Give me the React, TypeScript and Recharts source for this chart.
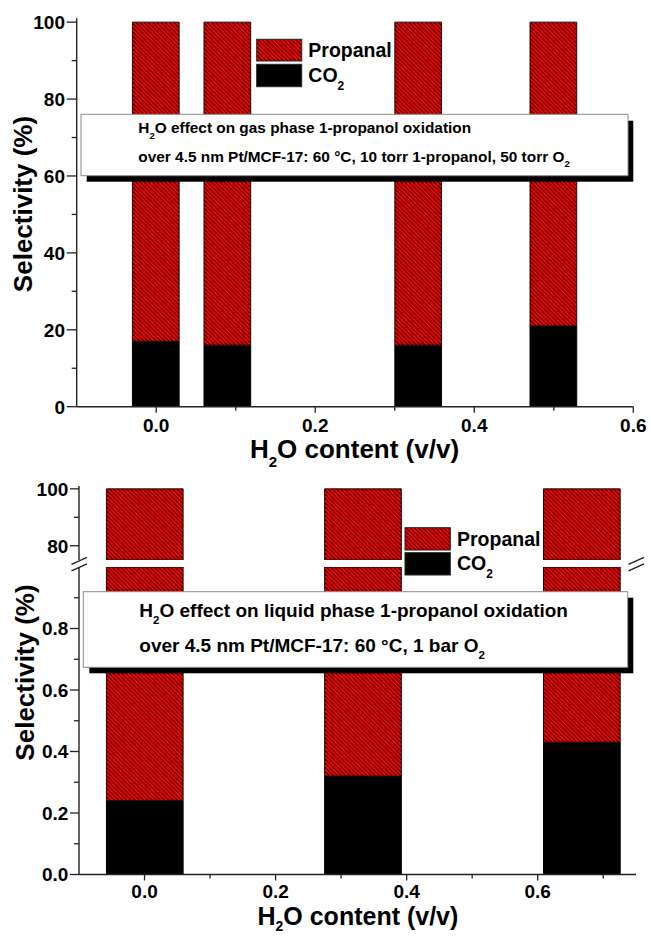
import React from "react";
import { BarChart, Bar, XAxis, YAxis } from "recharts";

// gas phase panel
const gasWater = [0, 0.09, 0.33, 0.5];
const gasCO2 = [17, 16, 16, 21];
const gasPropanal = [83, 84, 84, 79];
const gasXMajor = [0, 0.2, 0.4, 0.6];
const gasXMinor = [0.1, 0.3, 0.5];
const gasYMajor = [0, 20, 40, 60, 80, 100];
const gasYMinor = [10, 30, 50, 70, 90];

// liquid phase panel (broken y axis)
const liqWater = [0, 0.333, 0.667];
const liqCO2 = [0.24, 0.32, 0.43];
const liqPropanal = [99.76, 99.68, 99.57];
const liqXMajor = [0, 0.2, 0.4, 0.6];
const liqXMinor = [0.1, 0.3, 0.5, 0.7];
const liqYMajorLow = [0, 0.2, 0.4, 0.6, 0.8];
const liqYMinorLow = [0.1, 0.3, 0.5, 0.7, 0.9];
const liqYMajorHigh = [80, 100];
const liqYMinorHigh = [90];

const gasData = gasWater.map((x, i) => ({ x, co2: gasCO2[i], propanal: gasPropanal[i] }));
const liqData = liqWater.map((x, i) => ({ x, co2: liqCO2[i], propanal: liqPropanal[i] }));

const FONT = "'Liberation Sans', Arial, sans-serif";
const AX = { stroke: "#222", strokeWidth: 1.4 };
const has = (arr: number[], v: number) => arr.some((t) => Math.abs(t - v) < 1e-9);

const XTick = ({ x, y, payload, majors, off }: any) => {
  const major = has(majors, payload.value);
  return (
    <g>
      <line x1={x} x2={x} y1={y} y2={y + (major ? 6 : 4)} stroke="#222" strokeWidth={1.3} />
      {major && (
        <text x={x} y={y + off} textAnchor="middle" fontFamily={FONT} fontWeight="bold" fontSize={19} fill="#000">
          {payload.value.toFixed(1)}
        </text>
      )}
    </g>
  );
};

const YTick = ({ x, y, payload, majors, fmt, len }: any) => {
  const major = has(majors, payload.value);
  return (
    <g>
      <line x1={x} x2={x - (major ? len : 5)} y1={y} y2={y} stroke="#222" strokeWidth={1.3} />
      {major && (
        <text x={x - len - 1.7} y={y + 6.8} textAnchor="end" fontFamily={FONT} fontWeight="bold" fontSize={19} fill="#000">
          {fmt(payload.value)}
        </text>
      )}
    </g>
  );
};

const Sub = ({ children, size, dy }: any) => (
  <tspan fontSize={size} dy={dy}>{children}</tspan>
);

export default function App() {
  return (
    <div style={{ position: "absolute", left: 0, top: 0, width: 651, height: 936, background: "#fff", overflow: "hidden" }}>
      {/* gas phase */}
      <div style={{ position: "absolute", left: 0, top: 0 }}>
        <BarChart width={651} height={470} data={gasData} margin={{ top: 18.3, right: 17.7, bottom: 33.3, left: 0 }}>
          <XAxis xAxisId="f" orientation="top" type="number" dataKey="x" domain={[-0.1, 0.6]} height={0} tick={false} tickLine={false} axisLine={AX} />
          <XAxis type="number" dataKey="x" domain={[-0.1, 0.6]} allowDataOverflow ticks={[...gasXMajor, ...gasXMinor]} interval={0}
            tickSize={0} tickMargin={0} tickLine={false} axisLine={AX} height={30}
            tick={(p: any) => <XTick {...p} majors={gasXMajor} off={25} />} />
          <YAxis type="number" domain={[0, 101]} allowDataOverflow ticks={[...gasYMajor, ...gasYMinor]} interval={0}
            tickSize={0} tickMargin={0} tickLine={false} axisLine={AX} width={76.7}
            tick={(p: any) => <YTick {...p} majors={gasYMajor} len={10} fmt={(v: number) => String(v)} />} />
          <YAxis yAxisId="f" orientation="right" type="number" domain={[0, 101]} width={0} tick={false} tickLine={false} axisLine={AX} />
          <Bar dataKey="co2" stackId="s" fill="#000" stroke="#000" strokeWidth={1} barSize={46.7} isAnimationActive={false} />
          <Bar dataKey="propanal" stackId="s" fill="url(#hatch)" stroke="#111" strokeWidth={1} barSize={46.7} isAnimationActive={false} />
        </BarChart>
      </div>

      {/* liquid phase, upper segment */}
      <div style={{ position: "absolute", left: 0, top: 476 }}>
        <BarChart width={651} height={100} data={liqData} margin={{ top: 10, right: 15, bottom: 16, left: 0 }}>
          <XAxis xAxisId="f" orientation="top" type="number" dataKey="x" domain={[-0.1, 0.75]} height={0} tick={false} tickLine={false} axisLine={AX} />
          <XAxis type="number" dataKey="x" domain={[-0.1, 0.75]} allowDataOverflow height={0} tick={false} tickLine={false} axisLine={false} />
          <YAxis type="number" domain={[75, 101]} allowDataOverflow ticks={[...liqYMajorHigh, ...liqYMinorHigh]} interval={0}
            tickSize={0} tickMargin={0} tickLine={false} axisLine={AX} width={79}
            tick={(p: any) => <YTick {...p} majors={liqYMajorHigh} len={9} fmt={(v: number) => String(v)} />} />
          <YAxis yAxisId="f" orientation="right" type="number" domain={[75, 101]} width={0} tick={false} tickLine={false} axisLine={AX} />
          <Bar dataKey="co2" stackId="s" fill="#000" stroke="#000" strokeWidth={1} barSize={76.7} isAnimationActive={false} />
          <Bar dataKey="propanal" stackId="s" fill="url(#hatch)" stroke="#111" strokeWidth={1} barSize={76.7} isAnimationActive={false} />
        </BarChart>
      </div>

      {/* liquid phase, lower segment */}
      <div style={{ position: "absolute", left: 0, top: 560 }}>
        <BarChart width={651} height={376} data={liqData} margin={{ top: 7, right: 15, bottom: 31.5, left: 0 }}>
          <XAxis type="number" dataKey="x" domain={[-0.1, 0.75]} allowDataOverflow ticks={[...liqXMajor, ...liqXMinor]} interval={0}
            tickSize={0} tickMargin={0} tickLine={false} axisLine={AX} height={30}
            tick={(p: any) => <XTick {...p} majors={liqXMajor} off={23} />} />
          <YAxis type="number" domain={[0, 1]} allowDataOverflow ticks={[...liqYMajorLow, ...liqYMinorLow]} interval={0}
            tickSize={0} tickMargin={0} tickLine={false} axisLine={AX} width={79}
            tick={(p: any) => <YTick {...p} majors={liqYMajorLow} len={9} fmt={(v: number) => v.toFixed(1)} />} />
          <YAxis yAxisId="f" orientation="right" type="number" domain={[0, 1]} width={0} tick={false} tickLine={false} axisLine={AX} />
          <Bar dataKey="co2" stackId="s" fill="#000" stroke="#000" strokeWidth={1} barSize={76.7} isAnimationActive={false} />
          <Bar dataKey="propanal" stackId="s" fill="url(#hatch)" stroke="#111" strokeWidth={1} barSize={76.7} isAnimationActive={false} />
        </BarChart>
      </div>

      {/* annotations, legends, titles */}
      <svg width={651} height={936} style={{ position: "absolute", left: 0, top: 0, pointerEvents: "none" }}
        fontFamily={FONT} fontWeight="bold" fill="#000">
        <defs>
          <pattern id="hatch" patternUnits="userSpaceOnUse" width="4.2" height="4.2">
            <rect width="4.2" height="4.2" fill="#ff0000" />
            <path d="M-1,-1 L5.2,5.2 M-1,3.2 L1,5.2 M3.2,-1 L5.2,1" stroke="#000" strokeWidth="0.9" />
          </pattern>
        </defs>

        {/* gas legend */}
        <rect x={256.7} y={39.3} width={45} height={21.7} fill="url(#hatch)" stroke="#222" />
        <rect x={256.7} y={64.3} width={45} height={22.4} fill="#000" stroke="#222" />
        <text x={308.3} y={56.7} fontSize={19.5}>Propanal</text>
        <text x={308.3} y={82.3} fontSize={19.5}>CO<Sub size={12} dy={7.7}>2</Sub></text>

        {/* gas note */}
        <rect x={86.7} y={120.7} width={546.6} height={61} fill="#000" />
        <rect x={81} y={114.3} width={547} height={61.4} fill="#fff" stroke="#8a8a8a" strokeWidth={1} />
        <text x={138.3} y={133.3} fontSize={15.4}>
          H<Sub size={9.5} dy={5.5}>2</Sub><tspan dy={-5.5}>O effect on gas phase 1-propanol oxidation</tspan>
        </text>
        <text x={138.3} y={161.7} fontSize={15.4}>
          over 4.5 nm Pt/MCF-17: 60 °C, 10 torr 1-propanol, 50 torr O<Sub size={9.5} dy={5.5}>2</Sub>
        </text>

        {/* gas axis titles */}
        <text transform="translate(32,204) rotate(-90)" textAnchor="middle" fontSize={26}>Selectivity (%)</text>
        <text x={354.5} y={458.3} textAnchor="middle" fontSize={26}>
          H<Sub size={15} dy={9}>2</Sub><tspan dy={-9}>O content (v/v)</tspan>
        </text>

        {/* axis break marks */}
        {[79, 636].map((bx) => (
          <g key={bx} stroke="#222" strokeWidth={1.4}>
            <line x1={bx - 7.5} y1={564.3} x2={bx + 8} y2={557.3} />
            <line x1={bx - 7.5} y1={570.8} x2={bx + 8} y2={563.8} />
          </g>
        ))}

        {/* liquid legend */}
        <rect x={405} y={527.7} width={45.3} height={22.3} fill="url(#hatch)" stroke="#222" />
        <rect x={405} y={552.7} width={45.3} height={22.3} fill="#000" stroke="#222" />
        <text x={457} y={546} fontSize={19.5}>Propanal</text>
        <text x={457} y={570} fontSize={19.5}>CO<Sub size={12} dy={8}>2</Sub></text>

        {/* liquid note */}
        <rect x={89.3} y={597.7} width={544} height={75.6} fill="#000" />
        <rect x={83.3} y={591.7} width={544.4} height={75.6} fill="#fff" stroke="#8a8a8a" strokeWidth={1} />
        <text x={139.3} y={616.7} fontSize={19}>
          H<Sub size={11.5} dy={7}>2</Sub><tspan dy={-7}>O effect on liquid phase 1-propanol oxidation</tspan>
        </text>
        <text x={139.3} y={651.7} fontSize={19}>
          over 4.5 nm Pt/MCF-17: 60 °C, 1 bar O<Sub size={11.5} dy={7}>2</Sub>
        </text>

        {/* liquid axis titles */}
        <text transform="translate(34,672.5) rotate(-90)" textAnchor="middle" fontSize={26}>Selectivity (%)</text>
        <text x={357.9} y={925} textAnchor="middle" fontSize={25}>
          H<Sub size={14} dy={6}>2</Sub><tspan dy={-6}>O content (v/v)</tspan>
        </text>
      </svg>
    </div>
  );
}
